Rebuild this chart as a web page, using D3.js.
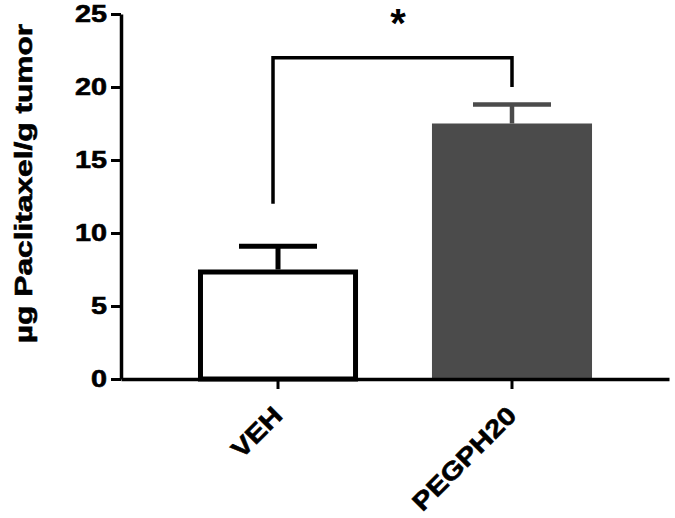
<!DOCTYPE html>
<html>
<head>
<meta charset="utf-8">
<script src="https://cdn.jsdelivr.net/npm/d3@7"></script>
<style>
  body { margin: 0; background: #fff; }
  svg { display: block; font-family: "Liberation Sans", Arial, sans-serif; font-weight: bold; }
</style>
</head>
<body>
<div id="chart"></div>
<script>
const categories = ["VEH", "PEGPH20"];
const means = [7.5, 17.5];
const errors = [1.6, 1.3];
const yTicks = [0, 5, 10, 15, 20, 25];
const bracket = { from: "VEH", to: "PEGPH20", fromY: 12, toY: 20, top: 22, label: "*" };
const yLabel = "µg Paclitaxel/g tumor";

const width = 675, height = 518;
const margin = { top: 14, right: 6, bottom: 139, left: 121 };

const svg = d3.select("#chart").append("svg")
  .attr("width", width)
  .attr("height", height);

// the original uses a very heavy, wide face; stretch bold text to match.
// anchor: 0 = start, 0.5 = middle, 1 = end (handled here, not by text-anchor)
function widen(sel, k, anchor) {
  sel.each(function () {
    const t = d3.select(this).attr("text-anchor", "start");
    const w = this.getComputedTextLength() * k;
    const x0 = +(t.attr("x") || 0);
    t.attr("x", x0 - w * anchor)
      .attr("textLength", w)
      .attr("lengthAdjust", "spacingAndGlyphs")
      .attr("stroke", "#000")
      .attr("stroke-width", 0.6);
  });
}

const y = d3.scaleLinear()
  .domain([0, 25])
  .range([height - margin.bottom, margin.top]);

const x = d3.scaleBand()
  .domain(categories)
  .range([margin.left, width - margin.right])
  .paddingInner(0.316)
  .paddingOuter(0.329);

const fills = ["#ffffff", "#4b4b4b"];
const strokes = ["#000000", "#4b4b4b"];

// bars
svg.append("g")
  .selectAll("rect")
  .data(categories)
  .join("rect")
  .attr("x", (d, i) => x(d) + (i === 0 ? 2.5 : 0))
  .attr("width", (d, i) => x.bandwidth() - (i === 0 ? 5 : 0))
  .attr("y", (d, i) => y(means[i]) + (i === 0 ? 2.5 : 0))
  .attr("height", (d, i) => y(0) - y(means[i]) - (i === 0 ? 2.5 : 0))
  .attr("fill", (d, i) => fills[i])
  .attr("stroke", (d, i) => (i === 0 ? "#000" : "none"))
  .attr("stroke-width", 5);

// error bars (upper only)
const eb = svg.append("g")
  .selectAll("g")
  .data(categories)
  .join("g")
  .attr("stroke", (d, i) => strokes[i]);

eb.append("line")
  .attr("x1", d => x(d) + x.bandwidth() / 2)
  .attr("x2", d => x(d) + x.bandwidth() / 2)
  .attr("y1", (d, i) => y(means[i]))
  .attr("y2", (d, i) => y(means[i] + errors[i]))
  .attr("stroke-width", (d, i) => (i === 0 ? 5 : 4.5));

eb.append("line")
  .attr("x1", d => x(d) + x.bandwidth() / 2 - 39)
  .attr("x2", d => x(d) + x.bandwidth() / 2 + 39)
  .attr("y1", (d, i) => y(means[i] + errors[i]))
  .attr("y2", (d, i) => y(means[i] + errors[i]))
  .attr("stroke-width", (d, i) => (i === 0 ? 5 : 4.5));

// y axis
const gy = svg.append("g")
  .attr("transform", `translate(${margin.left},0)`)
  .call(d3.axisLeft(y).tickValues(yTicks).tickSize(10).tickPadding(4).tickSizeOuter(0));
gy.select(".domain").attr("stroke-width", 3.5);
gy.selectAll(".tick line").attr("stroke-width", 3);
gy.selectAll(".tick text")
  .attr("font-size", 24)
  .attr("font-family", "Liberation Sans, Arial, sans-serif")
  .attr("font-weight", "bold")
  .attr("fill", "#000")
  .call(widen, 1.2, 1);

// x axis
const gx = svg.append("g")
  .attr("transform", `translate(0,${y(0)})`)
  .call(d3.axisBottom(x).tickSize(10).tickSizeOuter(0).tickFormat(""));
gx.select(".domain").attr("stroke-width", 3.5);
gx.selectAll(".tick line").attr("stroke-width", 3);
gx.selectAll(".tick")
  .append("text")
  .attr("fill", "#000")
  .attr("font-size", 25)
  .attr("font-family", "Liberation Sans, Arial, sans-serif")
  .attr("font-weight", "bold")
  .attr("transform", "translate(6,38) rotate(-45)")
  .text(d => d)
  .call(widen, 1.17, 1);

// y label
svg.append("text")
  .attr("transform", `translate(32,${(margin.top + y(0)) / 2 - 13}) rotate(-90)`)
  .attr("font-size", 24)
  .text(yLabel)
  .call(widen, 1.32, 0.5);

// significance bracket
const cx = d => x(d) + x.bandwidth() / 2;
svg.append("path")
  .attr("fill", "none")
  .attr("stroke", "#000")
  .attr("stroke-width", 3.5)
  .attr("d", d3.line()([
    [cx(bracket.from) - 5, y(bracket.fromY)],
    [cx(bracket.from) - 5, y(bracket.top)],
    [cx(bracket.to), y(bracket.top)],
    [cx(bracket.to), y(bracket.toY)]
  ]));

svg.append("text")
  .attr("x", (cx(bracket.from) + cx(bracket.to)) / 2 + 3)
  .attr("y", y(bracket.top) - 21)
  .attr("text-anchor", "middle")
  .attr("font-size", 40)
  .text(bracket.label);
</script>
</body>
</html>
